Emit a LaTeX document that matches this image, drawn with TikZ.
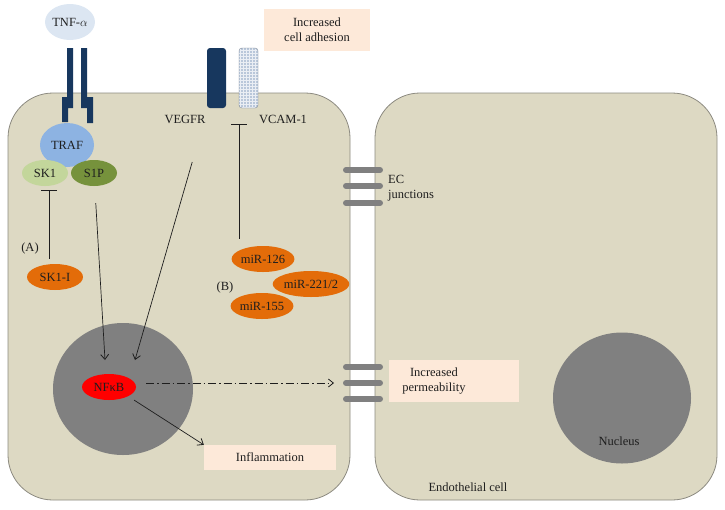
\documentclass[tikz,border=0pt]{standalone}
\usepackage{fontspec}
\setmainfont{Liberation Serif}
\usetikzlibrary{shapes.geometric,arrows.meta,patterns}

\definecolor{cellc}{RGB}{221,217,195}
\definecolor{cellline}{RGB}{140,138,128}
\definecolor{navy}{RGB}{23,55,94}
\definecolor{vcamc}{RGB}{185,199,218}
\definecolor{tnfc}{RGB}{220,230,242}
\definecolor{trafc}{RGB}{141,179,226}
\definecolor{skc}{RGB}{195,214,155}
\definecolor{sipc}{RGB}{118,146,60}
\definecolor{mirc}{RGB}{227,108,9}
\definecolor{nucc}{RGB}{128,128,128}
\definecolor{boxc}{RGB}{253,233,217}
\definecolor{txt}{RGB}{30,30,30}

\tikzset{
  cell/.style={draw=cellline,fill=cellc,rounded corners=45pt,line width=0.8pt,
    minimum width=342pt,minimum height=407pt},
  blob/.style={ellipse,inner sep=0pt,text=txt},
  lbl/.style={text=txt,inner sep=0pt},
  pbox/.style={fill=boxc,text=txt,inner sep=0pt,align=center},
  arr/.style={-{Straight Barb[length=5pt,width=8pt,line width=0.8pt]},line width=0.7pt,draw=txt},
  inh/.style={-{Bar[width=16pt,line width=0.8pt]},line width=0.7pt,draw=txt},
  junc/.style={line width=6pt,line cap=round,draw=nucc}
}

\begin{document}
\begin{tikzpicture}[x=1pt,y=-1pt,font=\fontsize{12.5}{15}\selectfont]
\useasboundingbox (0,0) rectangle (725,509);

% cells
\node [cell] (cellL) at(179,296.5){};
\node [cell] (cellR) at(546,296.5){};

% junctions
\foreach \y in {170,186,203,367,383,399}
  \draw[junc](346,\y) -- (380,\y);
\node [lbl,anchor=west,align=left] (ecj) at(388,188){EC\\junctions};

% receptors
\fill[navy](67,48) -- (73,48) -- (73,108) -- (68,108) -- (68,122) -- (62,122) -- (62,97) -- (67,97) -- cycle;
\fill[navy](81,48) -- (87,48) -- (87,97) -- (93,97) -- (93,123) -- (87,123) -- (87,108) -- (81,108) -- cycle;
\node [rectangle,rounded corners=3pt,fill=navy,minimum width=19pt,minimum height=60pt] (vegfrrec) at(216.5,78){};
\node [rectangle,rounded corners=3pt,draw=vcamc!70!black,preaction={fill=vcamc},pattern=grid,pattern color=white!70!vcamc,
  minimum width=19pt,minimum height=60pt] (vcamrec) at(248.5,78){};

\node [blob,fill=tnfc,minimum width=44pt,minimum height=36pt] (tnf) at(70,22){TNF-$\alpha$};
\node [blob,fill=trafc,minimum width=54pt,minimum height=44pt] (traf) at(67,145){TRAF};
\node [blob,fill=skc,minimum width=46pt,minimum height=26pt] (sk1) at(45,173){SK1};
\node [blob,fill=sipc,minimum width=46pt,minimum height=26pt] (s1p) at(94,173){S1P};

\node [lbl] (vegfr) at(185,119){VEGFR};
\node [lbl] (vcam) at(283,119){VCAM-1};

\node [pbox,minimum width=106pt,minimum height=42pt] (adh) at(317,30){Increased\\cell adhesion};

% inhibitors
\node [blob,fill=mirc,minimum width=56pt,minimum height=26pt] (sk1i) at(55,277){SK1-I};
\node [lbl] (labA) at(30,248){(A)};
\node [blob,fill=mirc,minimum width=54pt,minimum height=26pt] (mir126) at(263,259){miR-126};
\node [blob,fill=mirc,minimum width=64pt,minimum height=26pt] (mir221) at(311,284){miR-221/2};
\node [blob,fill=mirc,minimum width=56pt,minimum height=26pt] (mir155) at(262,306){miR-155};
\node [lbl] (labB) at(225,287){(B)};

% nuclei
\node [ellipse,fill=nucc,minimum width=140pt,minimum height=132pt] (nucL) at(123,389){};
\node [ellipse,fill=nucc,minimum width=138pt,minimum height=131pt] (nucR) at(622,398){};
\node [lbl] (nuctext) at(619,441){Nucleus};
\node [lbl] (endo) at(468,487){Endothelial cell};

\node [blob,fill=red,minimum width=54pt,minimum height=26pt] (nfkb) at(109,387){NFκB};

\node [pbox,minimum width=132pt,minimum height=25pt] (infl) at(270,457.5){Inflammation};
\node [pbox,minimum width=130pt,minimum height=42pt] (permbox) at(454,381){};
\node [lbl,align=center] (perm) at(434,381){Increased\\permeability};

\coordinate (sk1bar) at(49,190);
\coordinate (vcambar) at(239,124);
\coordinate (nfin1) at(105,360);
\coordinate (nfin2) at(135,360);
\coordinate (permend) at(334,383);

\draw[inh,shorten <=5pt](sk1i.north -| sk1bar) -- (sk1bar);
\draw[inh,shorten <=7pt](mir126.north -| vcambar) -- (vcambar);
\draw[arr,shorten <=17pt](s1p) -- (nfin1);
\draw[arr,shorten <=56pt](vegfrrec) -- (nfin2);
\draw[arr,dash pattern=on 8pt off 3pt on 1.5pt off 3pt,shorten <=10pt](nfkb.east |- permend) -- (permend);
\draw[arr,shorten <=7pt](nfkb.south east) -- (infl.north west);
\end{tikzpicture}
\end{document}
